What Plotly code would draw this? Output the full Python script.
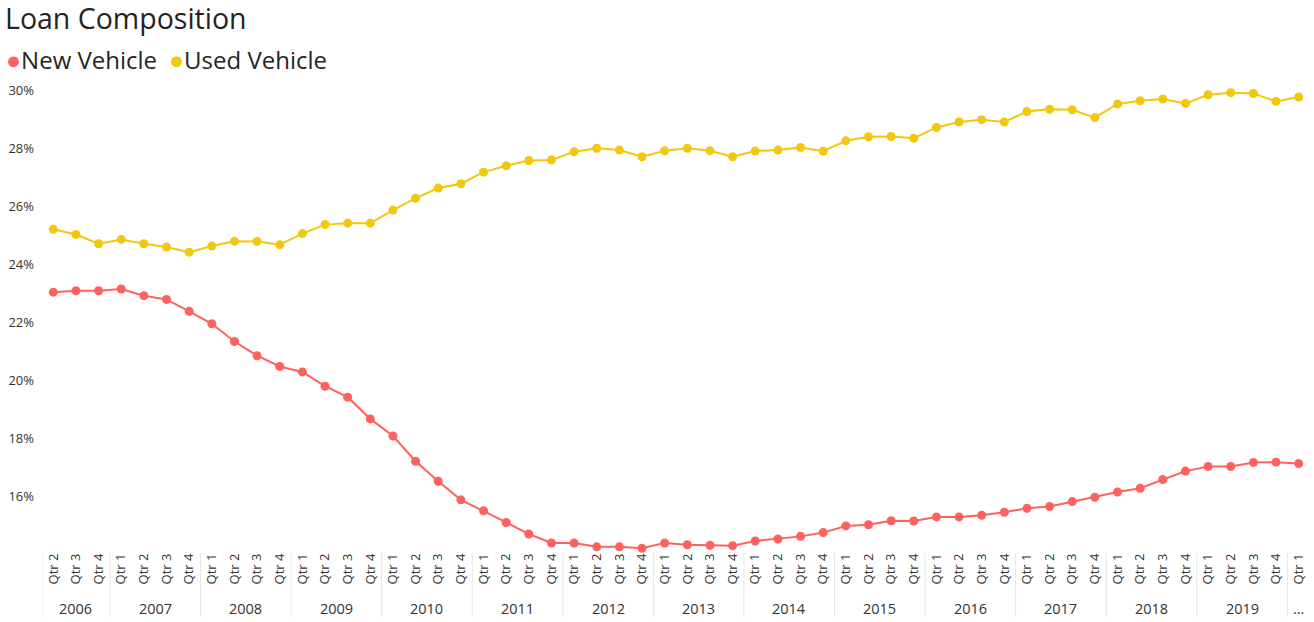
import plotly.graph_objects as go

# ---- data ----
year_labels = ["2006", "2007", "2008", "2009", "2010", "2011", "2012",
               "2013", "2014", "2015", "2016", "2017", "2018", "2019", "…"]
quarters_in_year = ([["Qtr 2", "Qtr 3", "Qtr 4"]]
                    + [["Qtr 1", "Qtr 2", "Qtr 3", "Qtr 4"]] * 13
                    + [["Qtr 1"]])

series_names = ["New Vehicle", "Used Vehicle"]

new_vehicle = [23.03, 23.08, 23.08, 23.14, 22.91, 22.78, 22.37, 21.94, 21.33, 20.84,
               20.47, 20.28, 19.79, 19.41, 18.66, 18.07, 17.20, 16.51, 15.87, 15.49,
               15.09, 14.69, 14.38, 14.38, 14.25, 14.25, 14.20, 14.38, 14.32, 14.30,
               14.29, 14.45, 14.52, 14.61, 14.74, 14.97, 15.01, 15.15, 15.14, 15.28,
               15.28, 15.34, 15.44, 15.58, 15.64, 15.81, 15.96, 16.14, 16.27, 16.57,
               16.86, 17.02, 17.02, 17.16, 17.17, 17.12]

used_vehicle = [25.20, 25.02, 24.70, 24.85, 24.70, 24.59, 24.41, 24.62, 24.79, 24.78,
                24.67, 25.05, 25.36, 25.41, 25.41, 25.86, 26.27, 26.62, 26.77, 27.17,
                27.39, 27.57, 27.59, 27.87, 27.99, 27.93, 27.70, 27.91, 27.99, 27.91,
                27.70, 27.90, 27.93, 28.02, 27.89, 28.25, 28.39, 28.40, 28.34, 28.71,
                28.90, 28.98, 28.90, 29.26, 29.34, 29.32, 29.05, 29.52, 29.63, 29.69,
                29.54, 29.84, 29.91, 29.88, 29.61, 29.76]

y_ticks = [16, 18, 20, 22, 24, 26, 28, 30]
y_tick_labels = ["16%", "18%", "20%", "22%", "24%", "26%", "28%", "30%"]

# ---- build categories (unique keys, quarter shown as tick text) ----
x_keys, x_inner, groups = [], [], []
for yl, qs in zip(year_labels, quarters_in_year):
    start = len(x_keys)
    for q in qs:
        x_keys.append(f"{yl} {q}")
        x_inner.append(q)
    groups.append((yl, start, len(x_keys) - 1))

RED = "#FD625E"
YELLOW = "#F2C80F"
FONT = "Open Sans, Segoe UI, sans-serif"
TXT = "#333333"

# figure / plot-area geometry (px)
W, H = 1314, 622
L, R, T, B = 42, 4, 86, 72
PLOT_W, PLOT_H = W - L - R, H - T - B


def px_x(px):
    """paper-x for an absolute pixel x"""
    return (px - L) / PLOT_W


def px_y(px):
    """paper-y for an absolute pixel y"""
    return (H - B - px) / PLOT_H


fig = go.Figure()
for name, vals, col in zip(series_names, [new_vehicle, used_vehicle], [RED, YELLOW]):
    fig.add_trace(go.Scatter(
        x=x_keys, y=vals, name=name, mode="lines+markers",
        line=dict(color=col, width=2), marker=dict(color=col, size=9),
        cliponaxis=False, showlegend=False,
        hovertemplate="%{y:.2f}%<extra>" + name + "</extra>"))

# legend row (Power BI style: dot + name)
for name, col, x0 in zip(series_names, [RED, YELLOW], [5, 168]):
    fig.add_annotation(
        x=px_x(x0), y=px_y(59), xref="paper", yref="paper",
        xanchor="left", yanchor="middle", showarrow=False, borderpad=0,
        text=f'<span style="color:{col};font-size:25px">●</span>{name}',
        font=dict(size=24, color="#252423", family=FONT))

# year row and dividers of the two-level axis
for yl, i0, i1 in groups:
    fig.add_annotation(x=(i0 + i1) / 2, y=px_y(608), xref="x", yref="paper",
                       text=yl, showarrow=False, yanchor="middle",
                       font=dict(size=14.5, color=TXT, family=FONT))
    fig.add_shape(type="line", xref="x", yref="paper",
                  x0=i0 - 0.5, x1=i0 - 0.5, y0=px_y(553), y1=px_y(617),
                  line=dict(color="#E6E6E6", width=1))

fig.update_layout(
    width=W, height=H,
    margin=dict(l=L, r=R, t=T, b=B),
    plot_bgcolor="white", paper_bgcolor="white",
    font=dict(family=FONT, color=TXT),
    showlegend=False,
    title=dict(text="Loan Composition", xref="container", yref="container",
               x=5 / W, xanchor="left", y=1 - 19 / H, yanchor="middle",
               pad=dict(l=0, r=0, t=0, b=0),
               font=dict(size=28.5, color="#252423", family=FONT)),
    xaxis=dict(type="category", range=[-0.5, len(x_keys) - 0.5],
               tickmode="array", tickvals=x_keys, ticktext=x_inner,
               tickangle=-90, ticks="", showgrid=False, showline=False,
               zeroline=False,
               tickfont=dict(size=13, color=TXT, family=FONT),
               automargin=False),
    yaxis=dict(range=[14.14, 30.14], tickvals=y_ticks, ticktext=y_tick_labels,
               showgrid=False, zeroline=False, showline=False,
               ticklabelstandoff=7,
               tickfont=dict(size=13, color=TXT, family=FONT),
               automargin=False),
)

fig.write_html("out.html", config={"displayModeBar": False},
               post_script="document.body.style.margin='0px';")
